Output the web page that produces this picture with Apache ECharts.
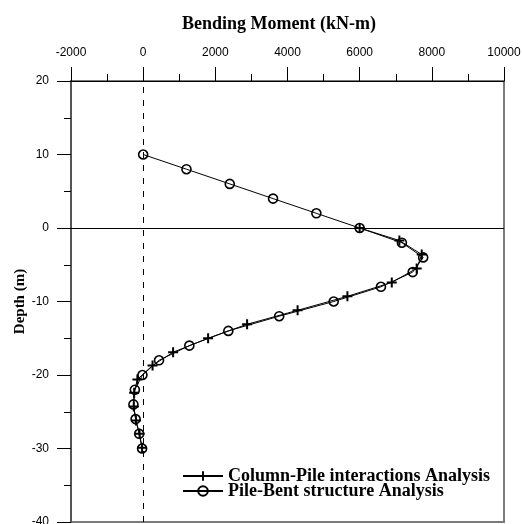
<!DOCTYPE html>
<html>
<head>
<meta charset="utf-8">
<script src="https://cdn.jsdelivr.net/npm/echarts@6/dist/echarts.min.js"></script>
<style>
  html, body { margin: 0; padding: 0; background: #fff; }
  #chart { width: 522px; height: 524px; }
</style>
</head>
<body>
<div id="chart"></div>
<script>
// Pile-Bent structure analysis: depth (m) and bending moment (kN-m)
const depthPileBent = [10, 8, 6, 4, 2, 0, -2, -4, -6, -8, -10, -12, -14, -16, -18, -20, -22, -24, -26, -28, -30];
const momentPileBent = [0, 1200, 2400, 3600, 4800, 6000, 7170, 7760, 7470, 6590, 5280, 3770, 2360, 1280, 440, -20, -230, -270, -210, -110, -30];

// Column-Pile interactions analysis
const depthColumnPile = [0, -1.7, -3.6, -5.5, -7.4, -9.3, -11.2, -13.1, -15.0, -16.9, -18.7, -20.6, -22.4, -24.3, -26.2, -28.0, -29.9];
const momentColumnPile = [6000, 7100, 7720, 7580, 6890, 5660, 4280, 2880, 1800, 830, 260, -160, -250, -260, -200, -100, -30];

const momentTicks = [-2000, 0, 2000, 4000, 6000, 8000, 10000];
const depthTicks = [-40, -30, -20, -10, 0, 10, 20];

const serifBold = { fontFamily: 'Liberation Serif', fontWeight: 'bold', color: '#000' };
const crossPath = 'path://M-1,-5H1V-1H5V1H1V5H-1V1H-5V-1H-1Z';
const plainNumber = v => String(v);

const chart = echarts.init(document.getElementById('chart'), null, { renderer: 'canvas' });

chart.setOption({
  animation: false,
  backgroundColor: '#fff',
  title: {
    text: 'Bending Moment (kN-m)',
    left: 274,
    top: 10,
    textAlign: 'center',
    textStyle: Object.assign({ fontSize: 18 }, serifBold)
  },
  grid: {
    left: 71, right: 18, top: 81, bottom: 2,
    containLabel: false,
    outerBoundsMode: 'none',
    show: true, borderColor: '#7a7a7a', borderWidth: 2, backgroundColor: 'transparent'
  },
  legend: {
    orient: 'vertical',
    left: 182,
    top: 467,
    itemWidth: 40,
    itemHeight: 12,
    itemGap: -3,
    padding: 0,
    textStyle: Object.assign({ fontSize: 18 }, serifBold),
    data: ['Column-Pile interactions Analysis', 'Pile-Bent structure Analysis']
  },
  xAxis: {
    type: 'value',
    position: 'top',
    min: momentTicks[0],
    max: momentTicks[momentTicks.length - 1],
    interval: 2000,
    axisLine: { show: true, onZero: false, lineStyle: { color: '#000', width: 1 } },
    axisTick: { show: true, inside: false, length: 14, lineStyle: { color: '#000' } },
    minorTick: { show: true, splitNumber: 2, length: 7, lineStyle: { color: '#000' } },
    splitLine: { show: false },
    axisLabel: { margin: 22, formatter: plainNumber, fontFamily: 'Liberation Sans', fontSize: 12, color: '#000' }
  },
  yAxis: {
    type: 'value',
    min: depthTicks[0],
    max: depthTicks[depthTicks.length - 1],
    interval: 10,
    name: 'Depth (m)',
    nameLocation: 'middle',
    nameGap: 43,
    nameMoveOverlap: false,
    nameRotate: 90,
    nameTextStyle: Object.assign({ fontSize: 15 }, serifBold),
    axisLine: { show: true, onZero: false, lineStyle: { color: '#555', width: 2 } },
    axisTick: { show: true, inside: false, length: 14, lineStyle: { color: '#000' } },
    minorTick: { show: true, splitNumber: 2, length: 7, lineStyle: { color: '#000' } },
    splitLine: { show: false },
    axisLabel: { margin: 22, formatter: plainNumber, fontFamily: 'Liberation Sans', fontSize: 12, color: '#000' }
  },
  series: [
    {
      name: 'Column-Pile interactions Analysis',
      type: 'line',
      data: momentColumnPile.map((m, i) => [m, depthColumnPile[i]]),
      symbol: crossPath,
      symbolSize: 10,
      itemStyle: { color: '#000' },
      lineStyle: { color: '#000', width: 1 },
      z: 3,
      markLine: {
        silent: true,
        symbol: 'none',
        label: { show: false },
        data: [
          { yAxis: 0, lineStyle: { color: '#000', width: 1, type: 'solid' } },
          { xAxis: 0, lineStyle: { color: '#000', width: 1, type: [6, 7] } }
        ]
      }
    },
    {
      name: 'Pile-Bent structure Analysis',
      type: 'line',
      data: momentPileBent.map((m, i) => [m, depthPileBent[i]]),
      symbol: 'circle',
      symbolSize: 9,
      itemStyle: { color: 'rgba(255,255,255,0)', borderColor: '#000', borderWidth: 1.6 },
      lineStyle: { color: '#000', width: 1 },
      z: 4
    }
  ]
});
</script>
</body>
</html>
